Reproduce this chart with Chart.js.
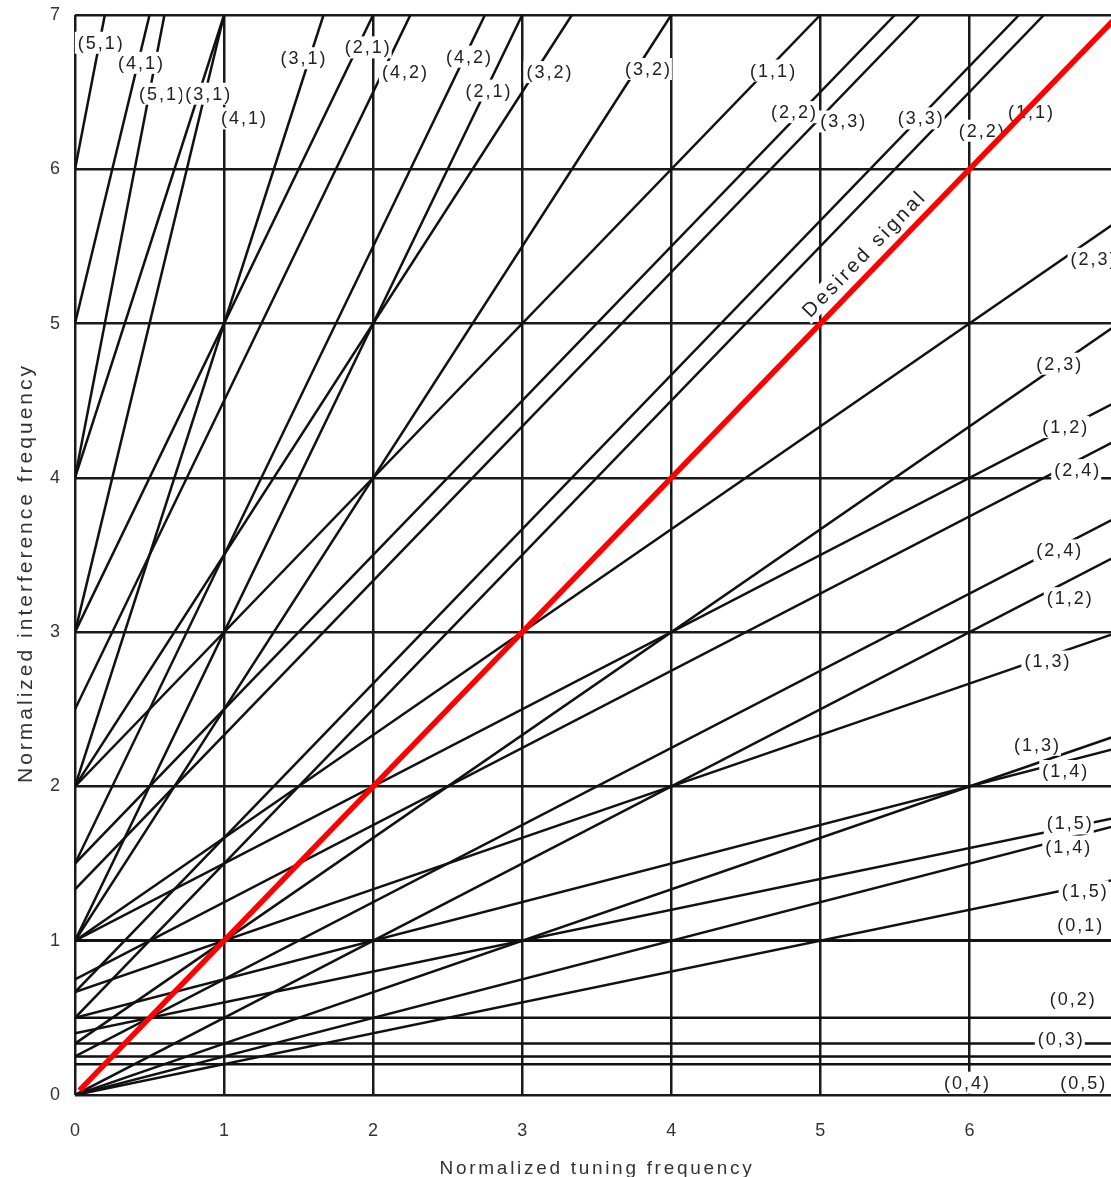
<!DOCTYPE html>
<html>
<head>
<meta charset="utf-8">
<script src="https://cdn.jsdelivr.net/npm/chart.js@4.4.1/dist/chart.umd.min.js"></script>
<style>
  html, body { margin: 0; padding: 0; background: #fff; }
  canvas { display: block; }
</style>
</head>
<body>
<canvas id="c" width="1111" height="1177"></canvas>
<script>
// ---- tick values ----
const xTicks = [0, 1, 2, 3, 4, 5, 6];
const yTicks = [0, 1, 2, 3, 4, 5, 6, 7];

// ---- spur lines (m,n): start at tuning frequency 0, end point ----
const spurOrder  = ["(5,1)","(5,1)","(4,1)","(4,1)","(3,1)","(3,1)","(2,1)","(2,1)",
                    "(4,2)","(4,2)","(3,2)","(3,2)","(1,1)","(2,2)","(3,3)","(3,3)","(2,2)",
                    "(2,3)","(2,3)","(1,2)","(2,4)","(2,4)","(1,2)","(1,3)","(1,3)",
                    "(1,4)","(1,4)","(1,5)","(1,5)","(0,1)","(0,2)","(0,3)","(0,4)","(0,5)"];
const spurStartY = [6, 4, 5, 3, 4, 2, 3, 1,
                    2.5, 1.5, 2, 1, 2, 1.5, 1.333, 0.667, 0.5,
                    1, 0.333, 1, 0.75, 0.25, 0, 0.667, 0,
                    0.5, 0, 0.4, 0, 1, 0.5, 0.333, 0.25, 0.2];
const spurEndX   = [0.2, 0.6, 0.5, 1, 1, 1.667, 2, 3,
                    2.25, 2.75, 3.333, 4, 5, 5.5, 5.667, 6.333, 6.5,
                    7, 7, 7, 7, 7, 7, 7, 7,
                    7, 7, 7, 7, 7, 7, 7, 7, 7];
const spurEndY   = [7, 7, 7, 7, 7, 7, 7, 7,
                    7, 7, 7, 7, 7, 7, 7, 7, 7,
                    5.667, 5, 4.5, 4.25, 3.75, 3.5, 3, 2.333,
                    2.25, 1.75, 1.8, 1.4, 1, 0.5, 0.333, 0.25, 0.2];

// ---- desired signal ----
const desiredX = [0.03, 7];
const desiredY = [0.03, 7];

// ---- curve labels ----
const labelText = ["(5,1)","(4,1)","(5,1)","(3,1)","(4,1)","(3,1)","(2,1)","(4,2)","(4,2)","(2,1)",
                   "(3,2)","(3,2)","(1,1)","(2,2)","(3,3)","(3,3)","(2,2)","(1,1)","(2,3)",
                   "(2,3)","(1,2)","(2,4)","(2,4)","(1,2)","(1,3)","(1,3)","(1,4)","(1,5)","(1,4)",
                   "(1,5)","(0,1)","(0,2)","(0,3)","(0,4)","(0,5)"];
const labelX = [0.17, 0.44, 0.58, 0.89, 1.13, 1.53, 1.96, 2.21, 2.64, 2.77,
                3.18, 3.84, 4.68, 4.82, 5.15, 5.67, 6.08, 6.41, 6.83,
                6.60, 6.64, 6.72, 6.60, 6.67, 6.52, 6.45, 6.64, 6.67, 6.66,
                6.77, 6.74, 6.69, 6.61, 5.98, 6.76];
const labelY = [6.82, 6.69, 6.49, 6.49, 6.33, 6.72, 6.79, 6.63, 6.73, 6.51,
                6.63, 6.65, 6.64, 6.37, 6.31, 6.33, 6.25, 6.37, 5.42,
                4.74, 4.33, 4.05, 3.53, 3.22, 2.81, 2.27, 2.10, 1.76, 1.61,
                1.32, 1.10, 0.62, 0.36, 0.08, 0.08];
const desiredLabel = "Desired signal";
const desiredLabelX = 5.29;
const desiredLabelY = 5.45;

const xTitle = "Normalized tuning frequency";
const yTitle = "Normalized interference frequency";

const FONT = '"Liberation Sans", Arial, Helvetica, sans-serif';
const INK = '#111111';

const datasets = [];
datasets.push({
  label: 'Desired signal',
  data: desiredX.map((v, i) => ({ x: v, y: desiredY[i] })),
  showLine: true, pointRadius: 0, borderColor: '#ff0000', borderWidth: 5.5,
  order: 0
});
spurOrder.forEach((name, i) => {
  datasets.push({
    label: name,
    data: [{ x: 0, y: spurStartY[i] }, { x: spurEndX[i], y: spurEndY[i] }],
    showLine: true, pointRadius: 0, borderColor: INK, borderWidth: 2.5,
    order: 1
  });
});

const labelPlugin = {
  id: 'spurLabels',
  beforeDatasetDraw(chart, args) {
    if (args.index !== 0) return; // draw labels just before the red line
    const { ctx, scales: { x, y } } = chart;
    ctx.save();
    ctx.font = '18px ' + FONT;
    ctx.letterSpacing = '2px';
    ctx.textAlign = 'center';
    ctx.textBaseline = 'middle';
    labelText.forEach((t, i) => {
      const px = x.getPixelForValue(labelX[i]);
      const py = y.getPixelForValue(labelY[i]);
      const w = ctx.measureText(t).width;
      ctx.fillStyle = '#fff';
      ctx.fillRect(px - w / 2 - 2, py - 11, w + 3, 22);
      ctx.fillStyle = '#222222';
      ctx.fillText(t, px + 1, py + 1);
    });
    // rotated "Desired signal"
    const ang = Math.atan2(y.getPixelForValue(1) - y.getPixelForValue(0),
                           x.getPixelForValue(1) - x.getPixelForValue(0));
    ctx.translate(x.getPixelForValue(desiredLabelX), y.getPixelForValue(desiredLabelY));
    ctx.rotate(ang);
    ctx.font = '20px ' + FONT;
    ctx.letterSpacing = '3px';
    const w = ctx.measureText(desiredLabel).width;
    ctx.fillStyle = '#fff';
    ctx.fillRect(-w / 2 - 2, -11, w + 3, 22);
    ctx.fillStyle = '#222222';
    ctx.fillText(desiredLabel, 1, 1);
    ctx.restore();
  }
};

const titlePlugin = {
  id: 'axisTitles',
  afterDraw(chart) {
    const { ctx, chartArea } = chart;
    ctx.save();
    ctx.fillStyle = '#333333';
    ctx.textAlign = 'center';
    ctx.textBaseline = 'alphabetic';
    ctx.font = '19px ' + FONT;
    ctx.letterSpacing = '2.7px';
    ctx.fillText(xTitle, (chartArea.left + chartArea.right) / 2 + 4, 1174);
    ctx.translate(32, 573);
    ctx.rotate(-Math.PI / 2);
    ctx.font = '21px ' + FONT;
    ctx.letterSpacing = '3px';
    ctx.fillText(yTitle, 0, 0);
    ctx.restore();
  }
};

new Chart(document.getElementById('c'), {
  type: 'scatter',
  data: { datasets },
  options: {
    responsive: false,
    animation: false,
    devicePixelRatio: 1,
    layout: { padding: { top: 15, right: 0, bottom: 0, left: 0 } },
    plugins: { legend: { display: false }, tooltip: { enabled: false } },
    scales: {
      x: {
        type: 'linear', min: 0, max: 6.95,
        afterBuildTicks(s) { s.ticks = xTicks.map(v => ({ value: v })); },
        afterFit(s) { s.height = 82; s.paddingLeft = 0; s.paddingRight = 0; },
        grid: { color: '#1a1a1a', lineWidth: 2.5, drawTicks: false },
        border: { display: false },
        ticks: { padding: 25, autoSkip: false, maxRotation: 0, color: '#333333',
                 font: { size: 18, family: FONT } }
      },
      y: {
        type: 'linear', min: 0, max: 7,
        afterBuildTicks(s) { s.ticks = yTicks.map(v => ({ value: v })); },
        afterFit(s) { s.width = 75; s.paddingTop = 0; s.paddingBottom = 0; },
        grid: { color: '#1a1a1a', lineWidth: 2.5, drawTicks: false },
        border: { display: false },
        ticks: { padding: 15, autoSkip: false, color: '#333333',
                 font: { size: 18, family: FONT } }
      }
    }
  },
  plugins: [labelPlugin, titlePlugin]
});
</script>
</body>
</html>
